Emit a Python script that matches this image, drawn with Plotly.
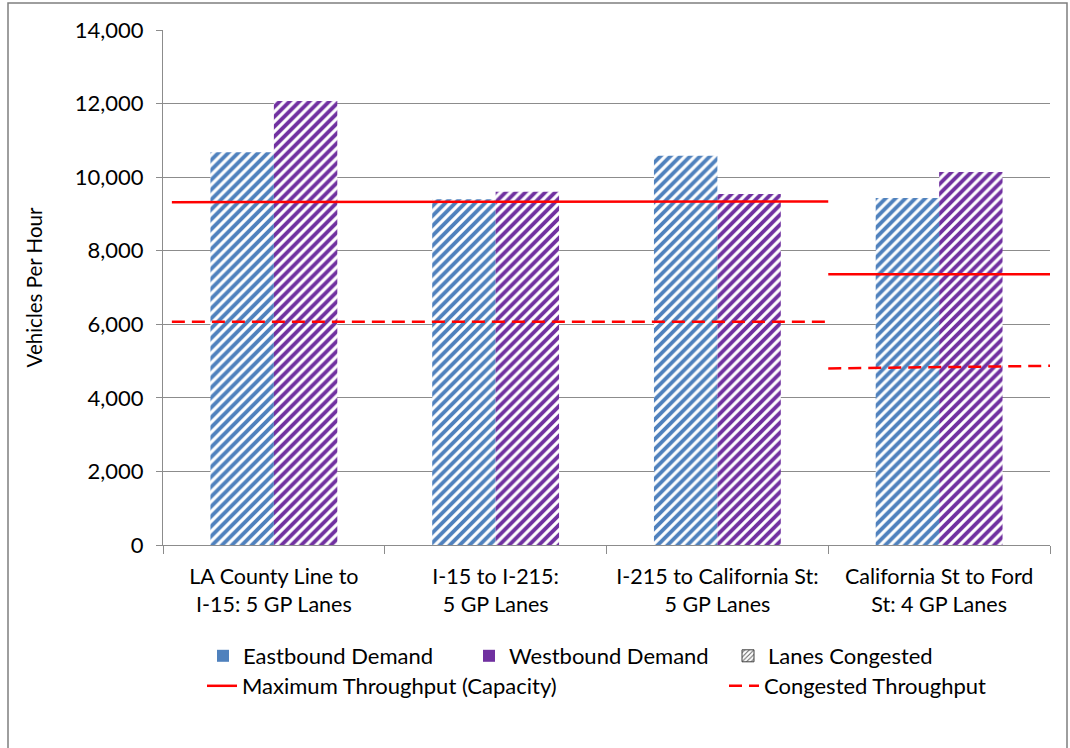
import plotly.graph_objects as go

# Freeway segments and their directional peak-hour demand (vehicles per hour)
categories = [
    "LA County Line to<br>I-15: 5 GP Lanes",
    "I-15 to I-215:<br>5 GP Lanes",
    "I-215 to California St:<br>5 GP Lanes",
    "California St to Ford<br>St: 4 GP Lanes",
]
eastbound = [10680, 9400, 10580, 9430]
westbound = [12070, 9600, 9540, 10140]

# Throughput reference lines, one section per lane configuration
# (section extents in category units, values at section start / end)
section_start = [-0.46, 2.5]
section_end = [2.5, 3.5]
capacity_start = [9320, 7360]
capacity_end = [9340, 7360]
congested_start = [6070, 4800]
congested_end = [6070, 4870]

y_ticks = [0, 2000, 4000, 6000, 8000, 10000, 12000, 14000]

EB_COLOR = "#4F81BD"
WB_COLOR = "#7030A0"
RED = "#FF0000"
GRID = "#8C8C8C"
FONT = "Lato"

x_idx = list(range(len(categories)))
bar_w = 0.286

fig = go.Figure()

def hatched(color):
    return dict(color=color, line_width=0, opacity=1,
                pattern=dict(shape="/", fgcolor=color, bgcolor="white",
                             fgopacity=1, fillmode="replace",
                             size=7, solidity=0.55))

fig.add_trace(go.Bar(x=x_idx, y=eastbound, width=bar_w, offset=-bar_w,
                     marker=hatched(EB_COLOR), showlegend=False,
                     name="Eastbound Demand"))
fig.add_trace(go.Bar(x=x_idx, y=westbound, width=bar_w, offset=0,
                     marker=hatched(WB_COLOR), showlegend=False,
                     name="Westbound Demand"))

# Throughput lines, one segment per section, separated by gaps
def segments(starts, ends):
    xs, ys = [], []
    for i in range(len(section_start)):
        xs += [section_start[i], section_end[i], None]
        ys += [starts[i], ends[i], None]
    return xs, ys

cx, cy = segments(capacity_start, capacity_end)
fig.add_trace(go.Scatter(x=cx, y=cy, mode="lines",
                         line=dict(color=RED, width=2.5),
                         name="Maximum Throughput (Capacity)", legend="legend4"))
gx, gy = segments(congested_start, congested_end)
fig.add_trace(go.Scatter(x=gx, y=gy, mode="lines",
                         line=dict(color=RED, width=2.5, dash="13px,7px"),
                         name="Congested Throughput", legend="legend5"))

# Legend-only entries
fig.add_trace(go.Bar(x=[None], y=[None],
                     marker=dict(color=EB_COLOR, line_width=0, opacity=1),
                     name="Eastbound Demand", legend="legend"))
fig.add_trace(go.Bar(x=[None], y=[None],
                     marker=dict(color=WB_COLOR, line_width=0, opacity=1),
                     name="Westbound Demand", legend="legend2"))
fig.add_trace(go.Bar(x=[None], y=[None],
                     marker=dict(color="white", opacity=1,
                                 line=dict(color="#404040", width=1),
                                 pattern=dict(shape="/", fgcolor="#606060",
                                              bgcolor="white", fgopacity=1,
                                              size=4, solidity=0.3)),
                     name="Lanes Congested", legend="legend3"))

L, R, T, B = 163, 20, 30, 203
W, H = 1070, 748
pw, ph = W - L - R, H - T - B

def px_x(px):
    return (px - L) / pw

def px_y(py):
    return (H - B - py) / ph

legend_font = dict(family=FONT, size=22, color="#000000")

def legend_at(px, py):
    return dict(x=px_x(px), y=px_y(py), xanchor="left", yanchor="middle",
                orientation="h", font=legend_font, bgcolor="rgba(0,0,0,0)",
                borderwidth=0, itemwidth=30, tracegroupgap=0)

fig.update_layout(
    width=W, height=H,
    margin=dict(l=L, r=R, t=T, b=B),
    paper_bgcolor="white", plot_bgcolor="white",
    barmode="overlay",
    font=dict(family=FONT, size=22, color="#000000"),
    legend=legend_at(203, 656),
    legend2=legend_at(469, 656),
    legend3=legend_at(728, 656),
    legend4=legend_at(202, 686),
    legend5=legend_at(724, 686),
    xaxis=dict(
        range=[-0.5, 3.5], tickvals=x_idx, ticktext=categories,
        ticks="", showgrid=False, zeroline=False,
        showline=True, linecolor=GRID, linewidth=1,
        tickfont=dict(family=FONT, size=21.5),
        ticklabelstandoff=12,
        minor=dict(tickvals=[-0.5, 0.5, 1.5, 2.5, 3.5], ticks="outside",
                   ticklen=8, tickcolor=GRID, showgrid=False),
        fixedrange=True,
    ),
    yaxis=dict(
        range=[0, 14000], tickvals=y_ticks, tickformat=",",
        showgrid=True, gridcolor=GRID, gridwidth=1,
        zeroline=False, showline=True, linecolor=GRID, linewidth=1,
        ticks="outside", ticklen=6, tickcolor=GRID,
        tickfont=dict(family=FONT, size=22),
        ticklabelstandoff=8,
        title=dict(text="Vehicles Per Hour", font=dict(family=FONT, size=20.5),
                   standoff=26),
        fixedrange=True,
    ),
    shapes=[dict(type="rect", xref="paper", yref="paper",
                 x0=px_x(8), x1=px_x(1067), y0=px_y(760), y1=px_y(3),
                 line=dict(color="#7F7F7F", width=1.5), fillcolor="rgba(0,0,0,0)",
                 layer="below")],
)

fig.write_html("out.html")
